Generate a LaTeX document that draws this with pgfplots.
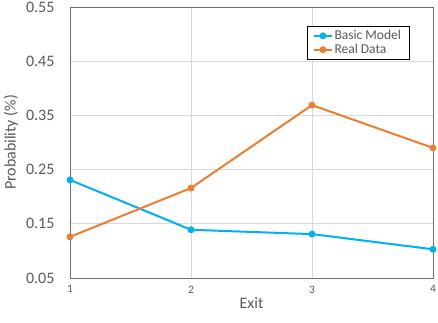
\documentclass[border=0pt]{standalone}
\usepackage{fontspec}
\setmainfont{Carlito}
\usepackage{pgfplots}
\pgfplotsset{compat=1.18}
\definecolor{cblue}{RGB}{0,176,240}
\definecolor{corange}{RGB}{237,125,49}
\definecolor{txt}{RGB}{89,89,89}
\definecolor{axgray}{RGB}{110,110,110}
\definecolor{gridgray}{RGB}{217,217,217}
\begin{document}
\begin{tikzpicture}
\path[use as bounding box] (-70pt,-44pt) rectangle (368pt,278pt);
\begin{axis}[
    at={(0,0)}, anchor=south west,
    scale only axis,
    width=363pt, height=271pt,
    xmin=1, xmax=4, ymin=0.05, ymax=0.55,
    xtick={1,2,3,4},
    ytick={0.05,0.15,...,0.55},
    /pgf/number format/assume math mode=true,
    y tick label style={/pgf/number format/fixed, /pgf/number format/fixed zerofill, /pgf/number format/precision=2},
    ticklabel style={text=txt},
    yticklabel style={font=\fontsize{16}{18}\selectfont, xshift=-12pt},
    xticklabel style={font=\fontsize{11.5}{13}\selectfont, yshift=-4pt},
    tick style={draw=none},
    grid=major,
    major grid style={gridgray, line width=0.8pt},
    axis line style={axgray, line width=1pt},
    xlabel={Exit}, ylabel={Probability (\%)},
    label style={text=txt, font=\fontsize{16}{18}\selectfont},
    xlabel style={yshift=2pt},
    ylabel style={yshift=1pt},
    legend style={at={(0.653,0.93)}, anchor=north west, draw=black, line width=0.8pt,
        font=\fontsize{13.5}{15}\selectfont, text=txt, inner xsep=6pt, inner ysep=2pt, row sep=-1pt,
        cells={anchor=west}},
    legend cell align=left,
    every axis plot/.append style={line width=2pt, mark=*, mark size=2.4pt},
]
\addplot[cblue, mark options={fill=cblue}] coordinates {(1,0.231) (2,0.139) (3,0.131) (4,0.103)};
\addplot[corange, mark options={fill=corange}] coordinates {(1,0.126) (2,0.216) (3,0.369) (4,0.290)};
\legend{Basic Model, Real Data}
\end{axis}
\end{tikzpicture}
\end{document}
